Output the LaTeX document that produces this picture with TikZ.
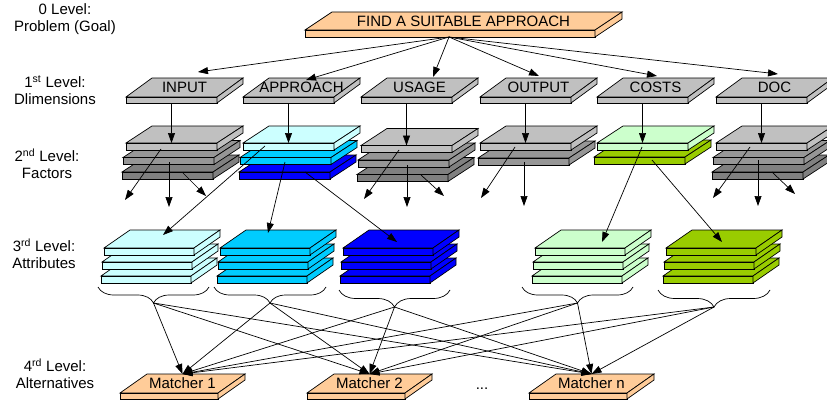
\documentclass[tikz,border=0pt]{standalone}
\usepackage{fontspec}
\setmainfont{Liberation Sans}
\usetikzlibrary{arrows.meta,decorations.pathreplacing}
\definecolor{peach}{HTML}{FFCC99}
\definecolor{gA}{HTML}{C0C0C0}
\definecolor{gB}{HTML}{969696}
\definecolor{gC}{HTML}{808080}
\definecolor{cyanL}{HTML}{CCFFFF}
\definecolor{cyanM}{HTML}{00CCFF}
\definecolor{blueD}{HTML}{0000FF}
\definecolor{greenL}{HTML}{CCFFCC}
\definecolor{greenD}{HTML}{99CC00}
% #1 name, #2 x, #3 y (front top-left), #4 width, #5 front height, #6 depth dx, #7 depth dy, #8 fill
\newcommand{\slab}[8]{%
  \filldraw[slabline,fill=#8] (#2,#3) -- ++(#4,0) -- ++(#6,-#7) -- ++(-#4,0) -- cycle;
  \filldraw[slabline,fill=#8] (#2,#3) rectangle ++(#4,#5);
  \filldraw[slabline,fill=#8] ({#2+#4},#3) -- ++(#6,-#7) -- ++(0,#5) -- ++(-#6,#7) -- cycle;
  \coordinate (#1) at ({#2+#4/2+#6/2},{#3-#7/2});
  \coordinate (#1-b) at ({#2+#4/2},{#3+#5});
  \coordinate (#1-t) at ({#2+#4/2},#3);
  \coordinate (#1-u) at ({#2+#4/2+#6/2},{#3-#7});
}
\newcommand{\dimslab}[2]{\slab{#1}{#2}{97}{91}{6}{26}{19}{gA}}
\newcommand{\factorslab}[4]{\slab{#1}{#2}{#3}{91}{7}{26}{17}{#4}}
\newcommand{\attrslab}[4]{\slab{#1}{#2}{#3}{90}{7}{26}{18}{#4}}
\newcommand{\matchslab}[2]{\slab{#1}{#2}{393}{98}{6}{27}{19}{peach}}
\begin{document}
\begin{tikzpicture}[x=1pt,y=-1pt,
  slabline/.style={draw=black,line width=0.7pt,line join=miter},
  slabtext/.style={font=\fontsize{15}{17}\selectfont,inner sep=0pt},
  levellabel/.style={font=\fontsize{15}{17}\selectfont,align=center,inner sep=0pt},
  arr/.style={draw=black,line width=0.7pt,-{Triangle[length=10pt,width=7pt]}},
  bracestyle/.style={draw=black,line width=0.7pt,decorate,decoration={brace,mirror,amplitude=#1}}]
\clip (0,0) rectangle (827,404);

% ---- level 0
\slab{goal}{305}{30}{290}{7}{27}{18}{peach}
\node[slabtext] (goaltxt) at (goal) {FIND A SUITABLE APPROACH};
\coordinate (gsrc) at (449,37);

% ---- level 1
\dimslab{din}{126}
\dimslab{dap}{243}
\dimslab{dus}{361}
\dimslab{dou}{480}
\dimslab{dco}{597}
\dimslab{ddo}{716}
\node[slabtext] (tin) at (din) {INPUT};
\node[slabtext] (tap) at (dap) {APPROACH};
\node[slabtext] (tus) at (dus) {USAGE};
\node[slabtext] (tou) at (dou) {OUTPUT};
\node[slabtext] (tco) at (dco) {COSTS};
\node[slabtext] (tdo) at (ddo) {DOC};

\coordinate (gin) at (198,72);
\coordinate (gap) at (306,80);
\coordinate (gus) at (433,77);
\coordinate (gou) at (539,76);
\coordinate (gco) at (657,76);
\coordinate (gdo) at (778,74);
\foreach \t in {gin,gap,gus,gou,gco,gdo} \draw[arr] (gsrc) -- (\t);

% ---- level 2
\factorslab{fin3}{122}{172}{gC}
\factorslab{fin2}{123}{157.5}{gB}
\factorslab{fin1}{126}{143}{gA}
\factorslab{fap3}{239}{172}{blueD}
\factorslab{fap2}{240}{157.5}{cyanM}
\factorslab{fap1}{243}{143}{cyanL}
\factorslab{fus3}{357}{174.5}{gC}
\factorslab{fus2}{358}{160}{gB}
\factorslab{fus1}{361}{145.5}{gA}
\factorslab{fou2}{478}{158}{gB}
\factorslab{fou1}{480}{143}{gA}
\factorslab{fco2}{594}{157}{greenD}
\factorslab{fco1}{597}{143}{greenL}
\factorslab{fdo3}{712}{172}{gC}
\factorslab{fdo2}{713}{157.5}{gB}
\factorslab{fdo1}{716}{143}{gA}

\draw[arr] (din-b) -- (fin1-t);
\draw[arr] (dap-b) -- (fap1-t);
\draw[arr] (dus-b) -- (fus1-t);
\draw[arr] (dou-b) -- (fou1-t);
\draw[arr] (dco-b) -- (fco1-t);
\draw[arr] (ddo-b) -- (fdo1-t);

% ---- level 3
\attrslab{a13}{101}{276}{cyanL}
\attrslab{a12}{102}{262}{cyanL}
\attrslab{a11}{104}{248}{cyanL}
\attrslab{a23}{217}{276}{cyanM}
\attrslab{a22}{218}{262}{cyanM}
\attrslab{a21}{220}{248}{cyanM}
\attrslab{a33}{340}{276}{blueD}
\attrslab{a32}{341}{262}{blueD}
\attrslab{a31}{343}{248}{blueD}
\attrslab{a43}{532}{276}{greenL}
\attrslab{a42}{533}{262}{greenL}
\attrslab{a41}{535}{248}{greenL}
\attrslab{a53}{663}{276}{greenD}
\attrslab{a52}{664}{262}{greenD}
\attrslab{a51}{666}{248}{greenD}

% factor -> attribute / open arrows
\coordinate (sinL) at (161,149);   \coordinate (einL) at (125,200);
\coordinate (sinM) at (169,162);   \coordinate (einM) at (169,207);
\coordinate (sinR) at (183,173);   \coordinate (einR) at (206,196);
\coordinate (sapL) at (265,146);   \coordinate (eapL) at (163,235);
\coordinate (sapM) at (285,162);   \coordinate (eapM) at (268,233);
\coordinate (sapR) at (305,172);   \coordinate (eapR) at (397,242);
\coordinate (susL) at (399,150);   \coordinate (eusL) at (364,199);
\coordinate (susM) at (407,165);   \coordinate (eusM) at (407,207);
\coordinate (susR) at (421,175);   \coordinate (eusR) at (444,196);
\coordinate (souL) at (515,147);   \coordinate (eouL) at (481,198);
\coordinate (souM) at (524,162);   \coordinate (eouM) at (524,206);
\coordinate (scoL) at (642,147);   \coordinate (ecoL) at (602,242);
\coordinate (scoR) at (652,160);   \coordinate (ecoR) at (722,242);
\coordinate (sdoL) at (750,147);   \coordinate (edoL) at (713,198);
\coordinate (sdoM) at (758,160);   \coordinate (edoM) at (758,206);
\coordinate (sdoR) at (772,172);   \coordinate (edoR) at (795,194);
\foreach \p in {inL,inM,inR,apL,apM,apR,usL,usM,usR,ouL,ouM,coL,coR,doL,doM,doR}
  \draw[arr] (s\p) -- (e\p);

% ---- braces
\draw[bracestyle=16pt] (98,287) -- (209,287);
\draw[bracestyle=16pt] (214,287) -- (326,287);
\draw[bracestyle=17pt] (339,290) -- (450,290);
\draw[bracestyle=16pt] (522,287) -- (633,287);
\draw[bracestyle=17pt] (658,290) -- (770,290);
\coordinate (b1) at (153.5,303);
\coordinate (b2) at (270,303);
\coordinate (b3) at (394.5,307);
\coordinate (b4) at (577.5,303);
\coordinate (b5) at (714,307);

% ---- level 4
\matchslab{m1}{120}
\matchslab{m2}{307}
\matchslab{mn}{529}
\node[slabtext] (tm1) at (m1) {Matcher 1};
\node[slabtext] (tm2) at (m2) {Matcher 2};
\node[slabtext] (tmn) at (mn) {Matcher n};
\node[slabtext] (dots) at (482,389) {...};

\foreach \b in {b1,b2,b3,b4,b5}
  \foreach \m in {m1,m2,mn}
    \draw[arr] (\b) -- (\m-u);

% ---- level labels
\node[levellabel] (l0) at (65,19.5) {0 Level:\\Problem (Goal)};
\node[levellabel] (l1) at (55,90.5) {1\textsuperscript{st} Level:\\Dlimensions};
\node[levellabel] (l2) at (47,164) {2\textsuperscript{nd} Level:\\Factors};
\node[levellabel] (l3) at (44,253.5) {3\textsuperscript{rd} Level:\\Attributes};
\node[levellabel] (l4) at (55,374) {4\textsuperscript{rd} Level:\\Alternatives};
\end{tikzpicture}
\end{document}
